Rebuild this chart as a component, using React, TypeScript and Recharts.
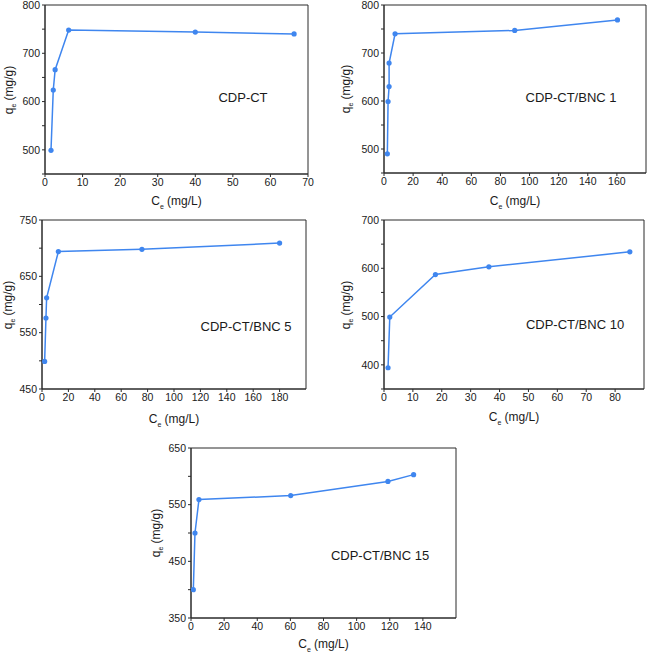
import React from "react"
import { LineChart, Line, XAxis, YAxis, ReferenceArea } from "recharts"

// Ce (mg/L) / qe (mg/g)
const ctCe = [1.6, 2.2, 2.7, 6.3, 40, 66.3]
const ctQe = [499, 624, 666, 748, 744, 740]

const bnc1Ce = [2.3, 2.8, 3.5, 3.5, 7.6, 89.8, 160.4]
const bnc1Qe = [490, 599, 630, 679, 740, 747, 769]

const bnc5Ce = [2.0, 3.0, 3.5, 12.4, 75.7, 180]
const bnc5Qe = [499, 576, 612, 694, 698, 709]

const bnc10Ce = [1.4, 2.0, 17.8, 36.3, 85.1]
const bnc10Qe = [394, 499, 587, 603, 634]

const bnc15Ce = [1.4, 2.4, 4.8, 60.2, 118.9, 134.4]
const bnc15Qe = [400, 500, 559, 566, 591, 603]

const xTicks70 = [0, 10, 20, 30, 40, 50, 60, 70]
const xTicks160 = [0, 20, 40, 60, 80, 100, 120, 140, 160]
const xTicks180 = [0, 20, 40, 60, 80, 100, 120, 140, 160, 180]
const xTicks80 = [0, 10, 20, 30, 40, 50, 60, 70, 80]
const xTicks140 = [0, 20, 40, 60, 80, 100, 120, 140]

const yTicks450to800 = [450, 500, 550, 600, 650, 700, 750, 800]
const yTicks450to750 = [450, 500, 550, 600, 650, 700, 750]
const yTicks350to700 = [350, 400, 450, 500, 550, 600, 650, 700]
const yTicks350to650 = [350, 400, 450, 500, 550, 600, 650]

const labelsCT = [500, 600, 700, 800]
const labels5 = [450, 550, 650, 750]
const labels10 = [400, 500, 600, 700]
const labels15 = [350, 450, 550, 650]

const BLUE = "#3f86ef"
const AXIS = "#2a2a2a"
const FONT = "'Liberation Sans', Arial, sans-serif"

const YW = 40
const MT = 5

type PanelProps = {
  name: string
  ce: number[]
  qe: number[]
  left: number
  top: number
  w: number
  h: number
  xDomain: [number, number]
  xTicks: number[]
  yDomain: [number, number]
  yTicks: number[]
  yLabels: number[]
  labelAt: [number, number]
  yTitleX: number
  xTitleY: number
}

function Panel(p: PanelProps) {
  const data = p.ce.map((c, i) => ({ ce: c, qe: p.qe[i] }))
  const width = YW + p.w + 8
  const height = MT + p.h + 40
  const tick = { fill: "#1a1a1a", fontSize: 10.5, fontFamily: FONT }
  return (
    <div style={{ position: "absolute", left: p.left - YW, top: p.top - MT, width, height }}>
      <LineChart width={width} height={height} data={data} margin={{ top: MT, right: 8, left: 0, bottom: 0 }}>
        <XAxis
          type="number"
          dataKey="ce"
          domain={p.xDomain}
          ticks={p.xTicks}
          allowDataOverflow
          stroke={AXIS}
          tickSize={3}
          tick={tick}
          height={40}
          interval={0}
        />
        <YAxis
          type="number"
          domain={p.yDomain}
          ticks={p.yTicks}
          allowDataOverflow
          stroke={AXIS}
          tickSize={3}
          width={YW}
          interval={0}
          tick={tick}
          tickFormatter={(v: number) => (p.yLabels.includes(v) ? String(v) : "")}
        />
        <ReferenceArea
          x1={p.xDomain[0]}
          x2={p.xDomain[1]}
          y1={p.yDomain[0]}
          y2={p.yDomain[1]}
          fill="none"
          fillOpacity={0}
          stroke={AXIS}
          strokeWidth={1}
          ifOverflow="extendDomain"
        />
        <Line
          type="linear"
          dataKey="qe"
          stroke={BLUE}
          strokeWidth={1.5}
          dot={{ r: 2.6, fill: BLUE, stroke: BLUE, strokeWidth: 0 }}
          isAnimationActive={false}
        />
      </LineChart>
      <div
        style={{
          position: "absolute",
          left: p.labelAt[0] - p.left + YW,
          top: p.labelAt[1] - p.top + MT,
          transform: "translate(-50%, -50%)",
          fontFamily: FONT,
          fontSize: 13,
          color: "#1a1a1a",
          whiteSpace: "nowrap",
        }}
      >
        {p.name}
      </div>
      <div
        style={{
          position: "absolute",
          left: p.w / 2 + YW,
          top: p.xTitleY - p.top + MT,
          transform: "translate(-50%, -50%)",
          fontFamily: FONT,
          fontSize: 12,
          color: "#1a1a1a",
          whiteSpace: "nowrap",
        }}
      >
        C<sub style={{ fontSize: 7 }}>e</sub> (mg/L)
      </div>
      <div
        style={{
          position: "absolute",
          left: p.yTitleX - p.left + YW,
          top: MT + p.h / 2,
          transform: "translate(-50%, -50%) rotate(-90deg)",
          fontFamily: FONT,
          fontSize: 12,
          lineHeight: "13px",
          color: "#1a1a1a",
          whiteSpace: "nowrap",
        }}
      >
        q<sub style={{ fontSize: 7, lineHeight: 0 }}>e</sub> (mg/g)
      </div>
    </div>
  )
}

export default function App() {
  return (
    <div style={{ position: "absolute", left: 0, top: 0, width: 648, height: 656, background: "#fff" }}>
      <Panel
        name="CDP-CT"
        ce={ctCe}
        qe={ctQe}
        left={45}
        top={5}
        w={263}
        h={169}
        xDomain={[0, 70]}
        xTicks={xTicks70}
        yDomain={[450, 800]}
        yTicks={yTicks450to800}
        yLabels={labelsCT}
        labelAt={[243, 97]}
        yTitleX={9}
        xTitleY={202}
      />
      <Panel
        name="CDP-CT/BNC 1"
        ce={bnc1Ce}
        qe={bnc1Qe}
        left={384}
        top={5}
        w={262}
        h={168}
        xDomain={[0, 180]}
        xTicks={xTicks160}
        yDomain={[450, 800]}
        yTicks={yTicks450to800}
        yLabels={labelsCT}
        labelAt={[571, 97]}
        yTitleX={346}
        xTitleY={202}
      />
      <Panel
        name="CDP-CT/BNC 5"
        ce={bnc5Ce}
        qe={bnc5Qe}
        left={42}
        top={220}
        w={264}
        h={169}
        xDomain={[0, 200]}
        xTicks={xTicks180}
        yDomain={[450, 750]}
        yTicks={yTicks450to750}
        yLabels={labels5}
        labelAt={[246, 326]}
        yTitleX={8}
        xTitleY={420}
      />
      <Panel
        name="CDP-CT/BNC 10"
        ce={bnc10Ce}
        qe={bnc10Qe}
        left={384}
        top={220}
        w={260}
        h={169}
        xDomain={[0, 90]}
        xTicks={xTicks80}
        yDomain={[350, 700]}
        yTicks={yTicks350to700}
        yLabels={labels10}
        labelAt={[575, 324]}
        yTitleX={346}
        xTitleY={418}
      />
      <Panel
        name="CDP-CT/BNC 15"
        ce={bnc15Ce}
        qe={bnc15Qe}
        left={191}
        top={448}
        w={265}
        h={170}
        xDomain={[0, 160]}
        xTicks={xTicks140}
        yDomain={[350, 650]}
        yTicks={yTicks350to650}
        yLabels={labels15}
        labelAt={[380, 555]}
        yTitleX={156}
        xTitleY={645}
      />
    </div>
  )
}
